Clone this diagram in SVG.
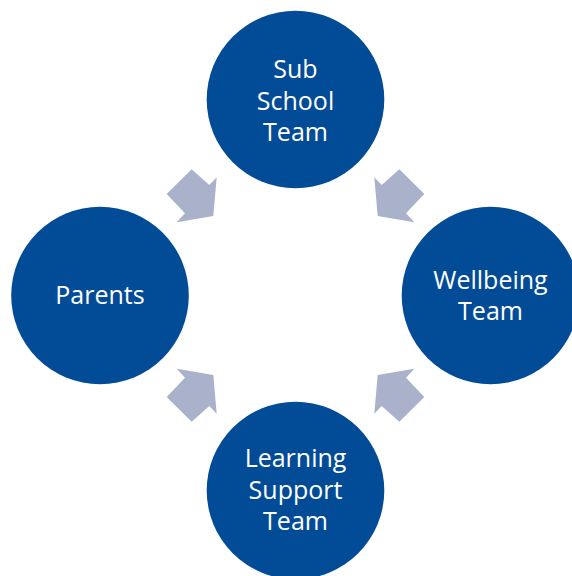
<svg xmlns="http://www.w3.org/2000/svg" width="572" height="576" viewBox="0 0 572 576">
<style>
.node{fill:#024b96}
.lbl{font-family:"Open Sans","Noto Sans",sans-serif;font-size:25px;fill:#ffffff;text-anchor:middle}
.arr{fill:#a9b1cb}
</style>
<defs>
<polygon id="arrow" points="191.7,169.3 209.3,185 216.7,177.3 213.3,216 176.7,222.3 185,213.3 166.7,194"/>
</defs>
<rect width="572" height="576" fill="#ffffff"/>
<g id="connectors">
<use href="#arrow" class="arr"/>
<use href="#arrow" class="arr" transform="matrix(-1,0,0,1,591,0)"/>
<use href="#arrow" class="arr" transform="matrix(1,0,0,-1,0,591)"/>
<use href="#arrow" class="arr" transform="matrix(-1,0,0,-1,591,591)"/>
</g>
<g id="sub-school-team">
<circle class="node" cx="295.5" cy="99.5" r="88.8"/>
<text class="lbl" x="295.5" y="78">Sub</text>
<text class="lbl" x="295.5" y="109.5">School</text>
<text class="lbl" x="295.5" y="141">Team</text>
</g>
<g id="wellbeing-team">
<circle class="node" cx="490.5" cy="295.5" r="88.8"/>
<text class="lbl" x="490.5" y="288.5">Wellbeing</text>
<text class="lbl" x="490.5" y="320">Team</text>
</g>
<g id="learning-support-team">
<circle class="node" cx="295.5" cy="490.5" r="88.8"/>
<text class="lbl" x="295.5" y="467">Learning</text>
<text class="lbl" x="295.5" y="498.5">Support</text>
<text class="lbl" x="295.5" y="530">Team</text>
</g>
<g id="parents">
<circle class="node" cx="100" cy="295.5" r="88.8"/>
<text class="lbl" x="100" y="304">Parents</text>
</g>
</svg>
